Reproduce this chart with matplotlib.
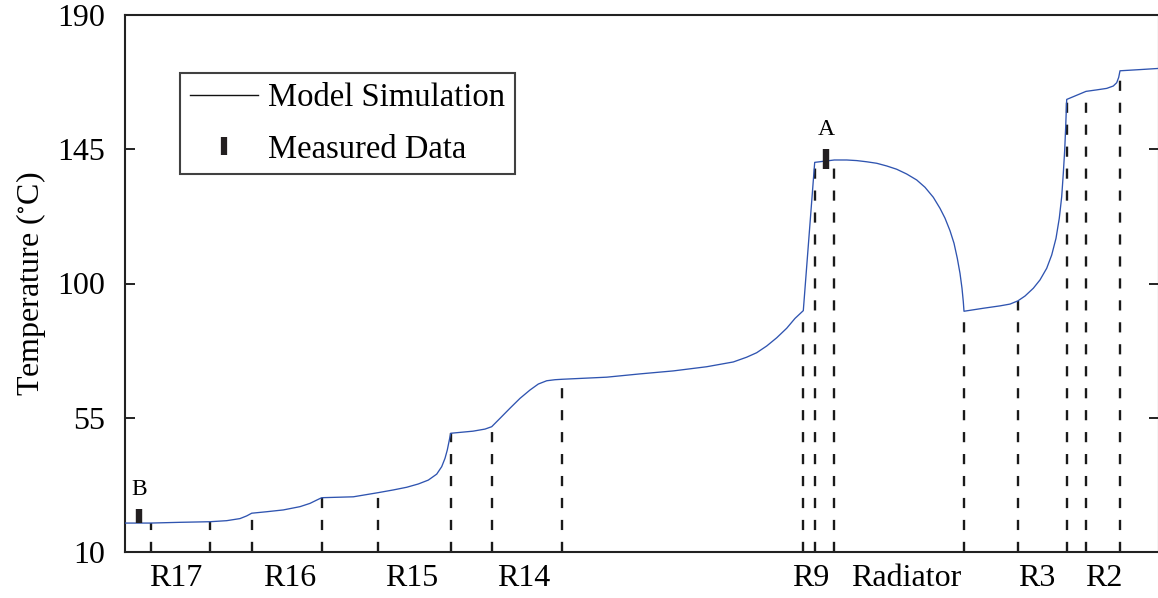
import matplotlib
matplotlib.use("Agg")
import matplotlib.pyplot as plt
from matplotlib.lines import Line2D
import numpy as np

plt.rcParams['font.family'] = ['Liberation Serif', 'DejaVu Serif']
plt.rcParams['mathtext.fontset'] = 'stix'

# simulated temperature along the coolant loop (position, degC)
pos = [0, 25.7, 55, 85, 101.7, 115, 121.7, 126.7, 141.7, 158.3, 175, 185,
       191.7, 196.7, 228.3, 253.3, 268.3, 281.7, 293.3, 303.3, 311.7,
       316.7, 320, 322.3, 324, 325, 325.7, 348, 360, 366.7, 375, 385, 395,
       405, 413.3, 421.7, 430, 437.3, 481.7, 515, 548.3, 581.7, 608.3,
       621.7, 631.7, 641.7, 651.7, 661.7, 670, 678.3, 689.7, 709.3, 721.7,
       731.7, 741.7, 751.7, 761.7, 771.7, 781.7, 791.7, 800, 808.3, 815,
       820, 825, 829, 832.3, 835, 837, 838.3, 839, 858.3, 875, 885, 893,
       900, 908.3, 915, 921.7, 926.7, 931, 934.3, 936.7, 938.3, 939.7,
       940.7, 941.3, 941.7, 961, 971.7, 981.7, 988.3, 991.7, 993.7, 995,
       1015, 1034]
temp = [19.7, 19.7, 19.95, 20.15, 20.5, 21.2, 22.1, 23.0, 23.5, 24.1, 25.2,
        26.3, 27.4, 28.2, 28.5, 29.9, 30.8, 31.7, 32.8, 34.1, 36.1, 38.6,
        41.4, 44.2, 47.0, 48.65, 49.8, 50.5, 51.2, 52.0, 54.8, 58.2, 61.5,
        64.3, 66.3, 67.4, 67.75, 67.9, 68.6, 69.7, 70.7, 72.1, 73.7, 75.3,
        76.8, 79.05, 81.8, 85.0, 88.3, 90.9, 140.6, 141.4, 141.4, 141.2,
        140.8, 140.3, 139.4, 138.3, 136.7, 134.7, 132.25, 128.9, 125.2,
        121.9, 117.7, 113.5, 108.45, 103.4, 98.4, 93.9, 90.7, 91.7, 92.5,
        93.1, 94.2, 95.8, 98.4, 101.2, 105.1, 109.55, 115.15, 121.9, 129.1,
        136.9, 144.75, 152.6, 158.2, 161.7, 164.4, 164.9, 165.4, 166.2,
        167.3, 169.1, 171.3, 171.7, 172.1]

# component boundaries along the loop
bounds = [25.7, 85, 126.7, 196.7, 253.3, 325.7, 366.7, 437.3, 678.3, 689.7,
          709.3, 839, 893, 941.7, 961, 995]

# component names and label positions
comp_names = ['R17', 'R16', 'R15', 'R14', 'R9', 'Radiator', 'R3', 'R2']
comp_pos = [51, 165, 287, 399, 686, 781, 912, 979]

# measured points (position, low, high)
meas_name = ['A', 'B']
meas_pos = [701, 14]
meas_lo = [138.4, 19.6]
meas_hi = [145.1, 24.4]

fig = plt.figure(figsize=(11.58, 5.98), dpi=100)
ax = fig.add_axes([125 / 1158, 46 / 598, 1034 / 1158, 537 / 598])

ax.plot(pos, temp, color='#2F54B0', lw=0.95, zorder=3)

tops = np.interp(bounds, pos, temp)
ax.vlines(bounds, 10, tops, colors='#1a1a1a', lw=1.7,
          linestyles=[(0, (4.3, 5.0))], zorder=2)

ax.vlines(meas_pos, meas_lo, meas_hi, colors='#231f20', lw=4.6, zorder=4)
for name, x, hi in zip(meas_name, meas_pos, meas_hi):
    ax.text(x, hi + 3.0, name, ha='center', va='bottom', fontsize=17)

ax.set_xlim(0, 1034)
ax.set_ylim(10, 190)
ax.set_yticks([10, 55, 100, 145, 190])
ax.set_xticks(comp_pos)
ax.set_xticklabels(comp_names)
ax.tick_params(axis='x', length=0, pad=9, labelsize=23)
ax.tick_params(axis='y', direction='in', length=7.2, width=1.4, pad=14,
               labelsize=23, right=True, color='#222222')
ax.set_ylabel('Temperature ($^{\\circ}$C)', fontsize=23, labelpad=7)

for s in ax.spines.values():
    s.set_linewidth(1.5)
    s.set_color('#222222')

handles = [Line2D([], [], color='#111111', lw=1.0),
           Line2D([], [], ls='none', marker='|', ms=13, mew=4.5,
                  color='#231f20')]
leg = ax.legend(handles, ['Model Simulation', 'Measured Data'],
                loc='upper left', bbox_to_anchor=(0.053, 0.892),
                fontsize=23.5, frameon=True, fancybox=False,
                handlelength=2.1, handletextpad=0.3, labelspacing=0.64,
                borderpad=0.3, borderaxespad=0)
leg.get_frame().set_edgecolor('#111111')
leg.get_frame().set_linewidth(1.5)

fig.savefig('out.png', dpi=100)
